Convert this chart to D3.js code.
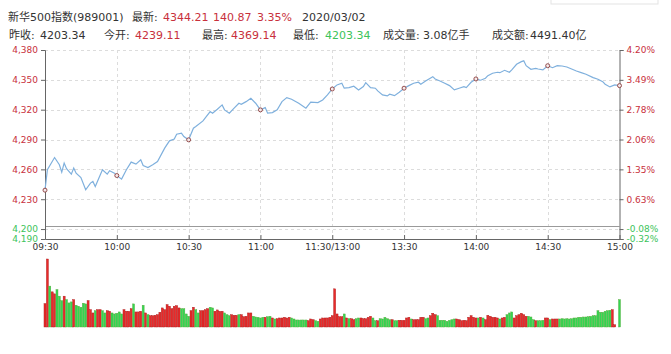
<!DOCTYPE html>
<html>
<head>
<meta charset="utf-8">
<script src="https://cdn.jsdelivr.net/npm/d3@7"></script>
<style>
  body { margin: 0; background: #fff; }
  svg { display: block; font-family: "DejaVu Sans", "Noto Sans CJK SC", sans-serif; }
</style>
</head>
<body>
<div id="wrapper"></div>
<script>
/* global d3 */

// header quote
const indexName = "新华500指数(989001)"
const latest = "4344.21"
const change = "140.87"
const changePct = "3.35%"
const tradeDate = "2020/03/02"
const prevClose = 4203.34
const openPrice = "4239.11"
const highPrice = "4369.14"
const lowPrice = "4203.34"
const volumeText = "3.08亿手"
const amountText = "4491.40亿"

// time axis (minutes from 09:30, lunch break folded out)
const timeTickMinutes = [0, 30, 60, 90, 120, 150, 180, 210, 240]
const timeTickLabels = ["09:30", "10:00", "10:30", "11:00", "11:30/13:00", "13:30", "14:00", "14:30", "15:00"]

// price axis
const priceTicks = [4380, 4350, 4320, 4290, 4260, 4230, 4200, 4190]

// price line
const priceMinutes = [
  0, 1, 4, 6, 7, 8, 9, 11, 12, 13, 15, 17, 19, 20, 21, 24, 26, 27, 29, 30,
  32, 34, 36, 38, 40, 41, 43, 45, 47, 50, 52, 54, 55, 57, 58, 60, 62, 63, 66, 69,
  70, 72, 74, 75, 77, 79, 81, 82, 84, 86, 88, 90, 92, 93, 95, 97, 99, 101, 103, 106,
  109, 111, 114, 116, 118, 120, 122, 124, 125, 127, 129, 131, 133, 134, 136, 138, 139, 141, 143, 144,
  146, 148, 150, 152, 154, 156, 157, 159, 162, 163, 165, 167, 169, 171, 173, 175, 176, 178, 180, 182,
  184, 185, 187, 189, 190, 192, 194, 195, 197, 199, 200, 201, 203, 205, 206, 208, 210, 212, 214, 216,
  218, 220, 222, 224, 226, 229, 231, 233, 234, 236, 238, 240
]
const priceValues = [
  4239.1, 4259.6, 4271.9, 4264.6, 4257.2, 4266.3, 4260.6, 4255.2, 4261.3, 4256.2, 4251.8, 4239.5, 4246.2, 4247.8, 4242.8, 4259.6, 4255.2, 4258.6, 4256.2, 4253.8,
  4250.2, 4259.6, 4267.3, 4265.3, 4269.6, 4263.9, 4261.9, 4264.6, 4267.9, 4281.3, 4288.7, 4290.4, 4295.4, 4296.4, 4293.0, 4289.7, 4301.4, 4303.0, 4308.7, 4318.1,
  4316.5, 4320.5, 4324.8, 4319.8, 4316.5, 4321.5, 4326.5, 4325.5, 4328.1, 4331.5, 4326.5, 4319.8, 4322.1, 4316.5, 4317.1, 4319.8, 4328.1, 4332.1, 4330.5, 4326.5,
  4321.5, 4327.5, 4327.1, 4329.8, 4334.8, 4340.8, 4344.9, 4346.6, 4341.6, 4342.2, 4343.6, 4339.9, 4343.2, 4347.2, 4342.2, 4341.6, 4338.9, 4334.8, 4333.8, 4335.5,
  4334.1, 4337.5, 4341.6, 4344.2, 4346.6, 4347.6, 4345.6, 4348.9, 4353.2, 4350.9, 4348.9, 4346.6, 4344.2, 4339.9, 4341.6, 4343.2, 4342.2, 4347.6, 4350.9, 4349.6,
  4351.6, 4354.2, 4356.6, 4357.6, 4357.2, 4359.6, 4357.6, 4360.0, 4365.6, 4368.3, 4369.1, 4364.2, 4360.6, 4361.6, 4360.9, 4360.0, 4364.2, 4362.2, 4364.2, 4363.9,
  4362.9, 4360.9, 4358.9, 4357.2, 4355.6, 4352.2, 4350.6, 4348.2, 4345.6, 4342.9, 4344.9, 4344.2
]

// per-minute volume (万手), one bar per minute 0..240
const volumes = [
  233, 677, 407, 350, 330, 373, 307, 263, 307, 273,
  240, 250, 273, 217, 207, 197, 237, 230, 263, 173,
  140, 163, 173, 173, 163, 140, 163, 157, 140, 130,
  137, 150, 130, 173, 157, 157, 183, 230, 150, 150,
  157, 217, 140, 123, 113, 113, 117, 123, 147, 190,
  173, 223, 207, 183, 207, 213, 190, 183, 183, 130,
  107, 163, 197, 173, 140, 163, 163, 173, 183, 197,
  190, 157, 170, 157, 157, 140, 123, 113, 123, 117,
  117, 123, 123, 103, 107, 140, 140, 107, 100, 97,
  90, 97, 97, 103, 107, 90, 80, 83, 90, 90,
  97, 90, 97, 90, 80, 70, 70, 70, 70, 70,
  63, 80, 73, 63, 57, 80, 90, 90, 90, 97,
  113,
  380,
  130, 103, 103, 130, 90, 83, 83, 73, 83, 90,
  90, 83, 83, 97, 107, 90, 63, 63, 83, 80,
  97, 83, 73, 73, 63, 63, 67, 67, 67, 90,
  97, 80, 73, 73, 73, 97, 97, 83, 90, 113,
  137, 123, 113, 67, 67, 67, 57, 67, 73, 80,
  80, 73, 63, 67, 63, 97, 113, 97, 90, 90,
  97, 90, 73, 117, 107, 97, 97, 90, 80, 90,
  97, 123, 140, 150, 90, 113, 123, 137, 123, 107,
  107, 100, 73, 63, 63, 63, 67, 90, 90, 73,
  80, 80, 80, 80, 83, 80, 83, 80, 83, 90,
  90, 97, 97, 100, 100, 103, 107, 113, 113, 163,
  147, 147, 157, 163, 167, 173, 23, 0, 273
]
// 1 = price up that minute (red), 0 = down (green)
const volumeUp = [
  1, 1, 0, 1, 1, 0, 0, 0, 1, 0,
  0, 0, 1, 0, 0, 0, 0, 0, 1, 1,
  1, 0, 1, 1, 0, 0, 1, 1, 0, 0,
  0, 0, 0, 1, 1, 1, 1, 0, 1, 1,
  1, 0, 1, 0, 1, 1, 1, 1, 1, 1,
  1, 1, 1, 1, 1, 1, 1, 0, 0, 0,
  0, 1, 1, 0, 0, 1, 1, 1, 1, 0,
  0, 1, 1, 1, 1, 0, 0, 0, 1, 1,
  1, 0, 1, 1, 1, 1, 1, 0, 0, 0,
  0, 0, 1, 0, 0, 1, 0, 1, 1, 1,
  1, 1, 1, 0, 0, 0, 0, 0, 0, 0,
  1, 1, 1, 0, 0, 1, 1, 1, 1, 1,
  1,
  1,
  1, 1, 1, 0, 1, 0, 1, 1, 0, 0,
  1, 1, 1, 1, 1, 0, 0, 1, 0, 0,
  0, 0, 0, 1, 0, 0, 1, 1, 1, 1,
  1, 0, 1, 1, 1, 1, 1, 0, 0, 1,
  1, 1, 0, 0, 0, 0, 0, 0, 0, 0,
  1, 1, 1, 1, 1, 1, 1, 1, 1, 0,
  1, 0, 1, 1, 1, 1, 1, 1, 0, 1,
  1, 0, 0, 0, 1, 1, 1, 1, 1, 1,
  0, 0, 0, 1, 0, 0, 0, 1, 1, 0,
  1, 1, 1, 0, 0, 0, 0, 0, 0, 0,
  0, 0, 0, 0, 0, 0, 0, 0, 0, 0,
  0, 0, 0, 0, 0, 1, 1, 1, 0
]

function drawChart() {
  const red = "#c8303c"
  const green = "#3cc35a"
  const textDark = "#333"

  const dimensions = {
    width: 671,
    height: 354,
    left: 45,
    right: 619.5,
    priceTop: 50,
    priceBottom: 239,
    volTop: 259,
    volBottom: 327,
  }

  const wrapper = d3.select("#wrapper")
    .append("svg")
      .attr("width", dimensions.width)
      .attr("height", dimensions.height)

  // faint cut-off button bar at top right
  wrapper.append("rect")
    .attr("x", 551).attr("y", -10)
    .attr("width", 107).attr("height", 14)
    .attr("fill", "#fff")
    .attr("stroke", "#e3e3e3")

  // header quote lines
  const header = wrapper.append("g")
    .style("font-size", "11px")
  const headerItems = [
    [8, 21, indexName, textDark],
    [132, 21, "最新:", textDark],
    [163, 21, latest, red],
    [213, 21, change, red],
    [257, 21, changePct, red],
    [302, 21, tradeDate, textDark],
    [9, 39, "昨收:", textDark],
    [40, 39, prevClose.toFixed(2), textDark],
    [104, 39, "今开:", textDark],
    [135, 39, openPrice, red],
    [202, 39, "最高:", textDark],
    [231, 39, highPrice, red],
    [293, 39, "最低:", textDark],
    [325, 39, lowPrice, green],
    [383, 39, "成交量:", textDark],
    [423, 39, volumeText, textDark],
    [492, 39, "成交额:", textDark],
    [530, 39, amountText, textDark],
  ]
  header.selectAll("text")
    .data(headerItems)
    .join("text")
      .attr("x", d => d[0])
      .attr("y", d => d[1])
      .attr("fill", d => d[3])
      .text(d => d[2])

  // scales
  const xScale = d3.scaleLinear()
    .domain([0, 240])
    .range([dimensions.left, dimensions.right])

  const yScale = d3.scaleLinear()
    .domain([4190, 4380])
    .range([dimensions.priceBottom, dimensions.priceTop])

  const pctScale = d3.scaleLinear()
    .domain(yScale.domain().map(v => (v - prevClose) / prevClose * 100))
    .range(yScale.range())

  const volScale = d3.scaleLinear()
    .domain([0, d3.max(volumes)])
    .range([dimensions.volBottom, dimensions.volTop])

  // grid
  const grid = wrapper.append("g")
    .attr("stroke", "#dcdcdc")
    .attr("stroke-dasharray", "3,3")
  grid.selectAll(".h-grid")
    .data(priceTicks.filter(t => t !== 4190))
    .join("line")
      .attr("class", "h-grid")
      .attr("x1", dimensions.left)
      .attr("x2", dimensions.right)
      .attr("y1", d => Math.round(yScale(d)) + 0.5)
      .attr("y2", d => Math.round(yScale(d)) + 0.5)
  grid.selectAll(".v-grid")
    .data(timeTickMinutes.slice(1, -1))
    .join("line")
      .attr("class", "v-grid")
      .attr("x1", d => Math.round(xScale(d)) + 0.5)
      .attr("x2", d => Math.round(xScale(d)) + 0.5)
      .attr("y1", dimensions.priceTop)
      .attr("y2", dimensions.priceBottom)

  // previous close line
  wrapper.append("line")
    .attr("x1", dimensions.left)
    .attr("x2", dimensions.right)
    .attr("y1", Math.round(yScale(prevClose)) + 0.5)
    .attr("y2", Math.round(yScale(prevClose)) + 0.5)
    .attr("stroke", "#9a9a9a")

  // axes
  const tickColor = v => v > prevClose ? red : green

  const yAxis = wrapper.append("g")
    .attr("transform", `translate(${dimensions.left},0)`)
    .call(d3.axisLeft(yScale)
      .tickValues(priceTicks)
      .tickFormat(d3.format(","))
      .tickSize(4))
  yAxis.selectAll("text")
    .attr("fill", d => tickColor(d))

  const pctAxis = wrapper.append("g")
    .attr("transform", `translate(${dimensions.right},0)`)
    .call(d3.axisRight(pctScale)
      .tickValues(priceTicks.map(v => (v - prevClose) / prevClose * 100))
      .tickFormat(d => d.toFixed(2) + "%")
      .tickSize(4))
  pctAxis.selectAll("text")
    .attr("fill", d => d > 0 ? red : green)

  const xAxis = wrapper.append("g")
    .attr("transform", `translate(0,${dimensions.priceBottom})`)
    .call(d3.axisBottom(xScale)
      .tickValues(timeTickMinutes)
      .tickFormat((d, i) => timeTickLabels[i])
      .tickSizeInner(-4)
      .tickSizeOuter(0)
      .tickPadding(5))
  xAxis.selectAll("text")
    .attr("fill", textDark)

  wrapper.selectAll(".domain, .tick line")
    .attr("stroke", "#666")
  wrapper.selectAll(".tick text")
    .style("font-family", "DejaVu Sans, sans-serif")
    .style("font-size", "9px")

  // price line
  const lineGenerator = d3.line()
    .x((d, i) => xScale(priceMinutes[i]))
    .y(d => yScale(d))

  wrapper.append("path")
    .attr("d", lineGenerator(priceValues))
    .attr("fill", "none")
    .attr("stroke", "#7fb0dd")
    .attr("stroke-width", 1.2)

  // half-hour markers
  const markerData = timeTickMinutes.map(m => [m, priceValues[priceMinutes.indexOf(m)]])
  wrapper.selectAll(".marker")
    .data(markerData)
    .join("circle")
      .attr("class", "marker")
      .attr("cx", d => xScale(d[0]))
      .attr("cy", d => yScale(d[1]))
      .attr("r", 2)
      .attr("fill", "#f4eaea")
      .attr("stroke", "#8a3b3b")
      .attr("stroke-width", 0.9)

  // volume bars
  const barWidth = (xScale(1) - xScale(0)) * 0.85
  wrapper.append("g")
    .selectAll("rect")
    .data(volumes)
    .join("rect")
      .attr("x", (d, i) => xScale(i) - barWidth / 2)
      .attr("y", d => volScale(d))
      .attr("width", barWidth)
      .attr("height", d => dimensions.volBottom - volScale(d))
      .attr("fill", (d, i) => volumeUp[i] ? "#e82a2a" : "#33d652")
      .attr("stroke", (d, i) => volumeUp[i] ? "#a81818" : "#5aa83a")
      .attr("stroke-width", 0.4)
}

drawChart()
</script>
</body>
</html>
